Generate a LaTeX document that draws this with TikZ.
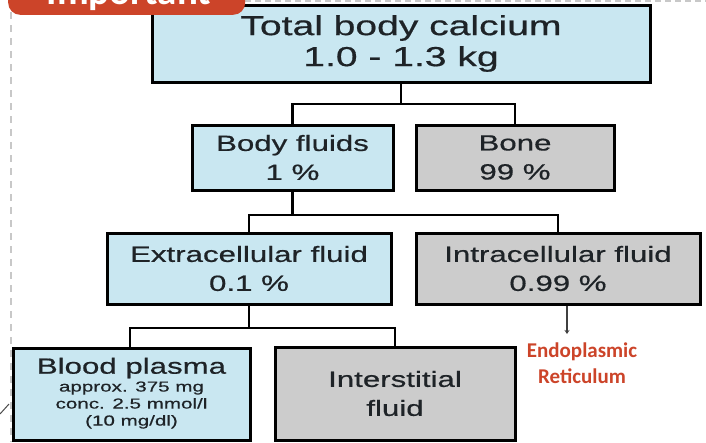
\documentclass[tikz,border=0pt]{standalone}
\usepackage{fontspec}
\setmainfont{Liberation Sans}
\newfontfamily\widefont[FakeStretch=1.42,FakeBold=0.6]{Liberation Sans}
\newfontfamily\carlfont{Carlito}
\usetikzlibrary{arrows.meta}
\definecolor{lblue}{HTML}{C9E7F1}
\definecolor{lgray}{HTML}{CCCCCC}
\definecolor{txt}{HTML}{1E2327}
\definecolor{impred}{HTML}{CC4429}
\definecolor{dashgray}{HTML}{C8C8C8}
\begin{document}
\begin{tikzpicture}[x=1pt,y=-1pt,
  box/.style={draw=black, line width=3pt, inner sep=0pt, align=center, text=txt,
    font=\widefont\fontsize{22}{29}\selectfont},
  bluebox/.style={box, fill=lblue},
  graybox/.style={box, fill=lgray},
  conn/.style={draw=black, line width=2.8pt},
  smalltxt/.style={inner sep=0pt, align=center, text=txt, font=\widefont\fontsize{14.5}{17}\selectfont},
  redtxt/.style={inner sep=0pt, align=center, text=impred, font=\carlfont\bfseries\fontsize{21}{26}\selectfont},
  guide/.style={draw=dashgray, line width=1.5pt, dash pattern=on 7pt off 6pt}
]
\useasboundingbox (0,0) rectangle (706,442);
\clip (0,0) rectangle (706,442);
\fill[white] (0,0) rectangle (706,442);

% guide lines
\draw[guide] (11,12) -- (11,442);
\draw[guide, dash pattern=on 6pt off 4pt] (245,1) -- (706,1);
\draw[draw=black!70, line width=1pt] (0,414) -- (9,404);

% boxes
\node[bluebox, minimum width=498, minimum height=77, font=\widefont\fontsize{27.5}{31}\selectfont] (top) at (401,43.5) {Total body calcium\\1.0 - 1.3 kg};
\node[bluebox, minimum width=201, minimum height=65] (bf) at (292.5,157.5) {Body fluids\\1 \%};
\node[graybox, minimum width=198, minimum height=65] (bone) at (515,157.5) {Bone\\99 \%};
\node[bluebox, minimum width=284, minimum height=71] (ecf) at (249,268.5) {Extracellular fluid\\0.1 \%};
\node[graybox, minimum width=284, minimum height=71] (icf) at (558,268.5) {Intracellular fluid\\0.99 \%};
\node[bluebox, minimum width=237, minimum height=92] (bp) at (131.5,394) {};
\node[graybox, minimum width=240, minimum height=93] (isf) at (395,393.5) {Interstitial\\fluid};
\node[inner sep=0pt, text=txt, font=\widefont\fontsize{22}{26}\selectfont] (bpt) at (131.5,368) {Blood plasma};
\node[smalltxt] (bps) at (131.5,405) {approx. 375 mg\\conc. 2.5 mmol/l\\(10 mg/dl)};

% connectors
\coordinate (j1) at (401,104);
\coordinate (j2) at (292.5,215);
\coordinate (j3) at (249,328);
\draw[conn] (top.south) -- (j1);
\draw[conn] (bf.north) |- (j1) -| (bone.north);
\draw[conn] (bf.south) -- (j2);
\draw[conn] (ecf.north) |- (j2) -| (icf.north);
\draw[conn] (ecf.south) -- (j3);
\draw[conn] (bp.north -| 130,0) |- (j3) -| (isf.north);

% endoplasmic reticulum
\node[redtxt] (er) at (582,363) {Endoplasmic\\Reticulum};
\coordinate (erin) at (567,334);
\draw[draw=black!75, line width=2pt, -{Stealth[length=4pt,width=5pt]}] (icf.south -| erin) -- (erin);

% banner
\node[fill=impred, rounded corners=12pt, minimum width=237, minimum height=45, inner sep=0pt, anchor=south west] (banner) at (8,15) {};
\node[text=white, inner sep=0pt, anchor=base, font=\carlfont\bfseries\fontsize{39}{39}\selectfont] (imp) at (129,4) {Important};
\end{tikzpicture}
\end{document}
